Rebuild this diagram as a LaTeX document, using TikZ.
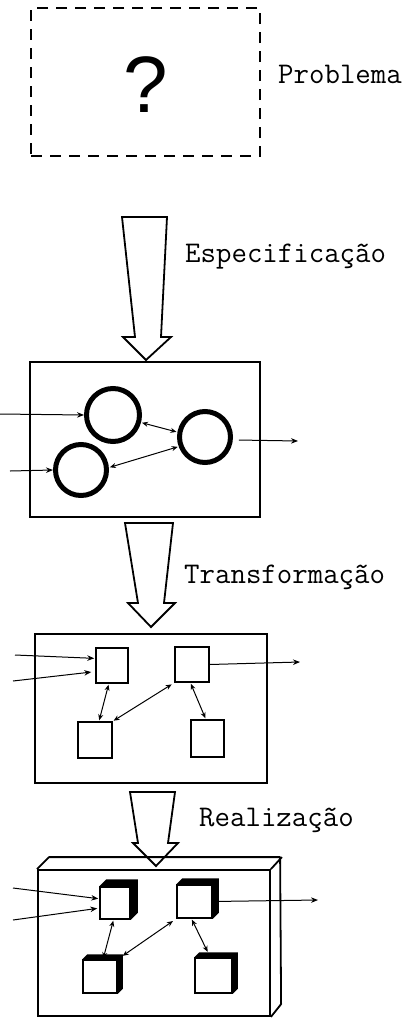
\documentclass[tikz,border=0pt]{standalone}
\usepackage{fontspec}
\setmainfont{Liberation Serif}
\newfontfamily\labelfont{Latin Modern Mono}
\newfontfamily\qfont{Liberation Sans}
\usetikzlibrary{arrows.meta}

\begin{document}
\begin{tikzpicture}[x=1pt,y=-1pt,
  frame/.style={draw, line width=1.8pt, inner sep=0pt},
  problembox/.style={draw, line width=1.6pt, dash pattern=on 11pt off 8pt, inner sep=0pt},
  bigarrow/.style={draw, line width=1.8pt, line join=miter},
  proc/.style={circle, draw, line width=5pt, inner sep=0pt},
  unit/.style={draw, line width=1.5pt, inner sep=0pt},
  flow/.style={line width=1pt, -{Stealth[length=7pt,width=5.5pt]}},
  link/.style={line width=1pt, {Stealth[length=6pt,width=5pt]}-{Stealth[length=6pt,width=5pt]}, shorten <=1pt, shorten >=1pt},
  stage/.style={anchor=west, inner sep=0pt, font=\labelfont\fontsize{30}{32}\selectfont},
]
\useasboundingbox (0,0) rectangle (410,1020);

% ---------- problem ----------
\node[problembox, minimum width=229pt, minimum height=148pt] (prob) at (145.5,82) {};
\node[inner sep=0pt, font=\qfont\fontsize{80}{82}\selectfont] (qm) at (146,85) {?};
\node[stage] (lprob) at (278,74) {Problema};

% ---------- specification ----------
\draw[bigarrow] (122,217) -- (167,217) -- (161,337) -- (171,337) -- (146,360)
  -- (123,337) -- (135,337) -- cycle;
\node[stage] (lspec) at (185,257) {Especificação};

\node[frame, minimum width=230pt, minimum height=155pt] (spec) at (145,439.5) {};
\node[proc, minimum size=53pt] (cA) at (113,415) {};
\node[proc, minimum size=51pt] (cB) at (205,437) {};
\node[proc, minimum size=51pt] (cC) at (81,470) {};
\coordinate (inA) at (0,414);
\coordinate (inC) at (10,471);
\coordinate (outB) at (298,441);
\draw[flow] (inA) -- (cA.west);
\draw[flow] (inC) -- (cC.west);
\draw[flow, shorten <=6pt] (cB.-6) -- (outB);
\draw[link] (cA.-15) -- (cB.170);
\draw[link] (cC.5) -- (cB.200);

% ---------- transformation ----------
\draw[bigarrow] (125,523) -- (173,523) -- (164,603) -- (175,603) -- (151,627)
  -- (128,603) -- (138,603) -- cycle;
\node[stage] (ltrans) at (184,577) {Transformação};

\node[frame, minimum width=232pt, minimum height=149pt] (trans) at (151,708.5) {};
\node[unit, minimum width=32pt, minimum height=35pt] (s1) at (112,665.5) {};
\node[unit, minimum width=34pt, minimum height=35pt] (s2) at (192,664.5) {};
\node[unit, minimum width=34pt, minimum height=36pt] (s3) at (95,740) {};
\node[unit, minimum width=33pt, minimum height=37pt] (s4) at (207.5,738.5) {};
\coordinate (t1) at (15,655);
\coordinate (t2) at (13,681);
\coordinate (tout) at (300,662);
\draw[flow, shorten >=1pt] (t1) -- (s1.157);
\draw[flow, shorten >=4pt] (t2) -- (s1.200);
\draw[flow] (s2.east) -- (tout);
\draw[link] (s1.-100) -- (s3.78);
\draw[link, shorten <=3pt] (s2.south west) -- (s3.north east);
\draw[link] (s2.-95) -- (s4.95);

% ---------- realisation ----------
\draw[bigarrow] (130,792) -- (175,792) -- (168,843) -- (178,843) -- (156,866)
  -- (133,843) -- (138,843) -- cycle;
\node[stage] (lreal) at (199,820) {Realização};

\node[frame, minimum width=232pt, minimum height=146pt] (slab) at (154,943) {};
\draw[line width=1.8pt, line join=round]
  (slab.north west) -- ++(12,-12) -- ++(231,0) -- ++(1,147) -- (slab.south east)
  (slab.north east) -- ++(11,-12);

% cubes: front face plus dark top and side faces
\newcommand{\cubeshade}[2]{%
  \fill (#1.north west) -- ++(#2,-#2) -- ([shift={(#2,-#2)}]#1.north east)
    -- ([shift={(#2,-#2)}]#1.south east) -- (#1.south east) -- (#1.north east) -- cycle;}
\node[unit, minimum width=30pt, minimum height=32pt] (c1) at (115,903) {};
\node[unit, minimum width=35pt, minimum height=33pt] (c2) at (194.5,901.5) {};
\node[unit, minimum width=34pt, minimum height=33pt] (c3) at (100,976.5) {};
\node[unit, minimum width=37pt, minimum height=35pt] (c4) at (213.5,975.5) {};
\cubeshade{c1}{7}
\cubeshade{c2}{6}
\cubeshade{c3}{5}
\cubeshade{c4}{5}
\coordinate (r1) at (13,888);
\coordinate (r2) at (13,920);
\coordinate (rout) at (318,900);
\draw[flow, shorten >=1pt] (r1) -- (c1.165);
\draw[flow, shorten >=2pt] (r2) -- (c1.198);
\draw[flow, shorten <=6pt] (c2.east) -- (rout);
\draw[link] (c1.-95) -- (c3.80);
\draw[link, shorten <=4pt, shorten >=6pt] (c2.south west) -- (c3.north east);
\draw[link, shorten >=6pt] (c2.-100) -- (c4.100);

\end{tikzpicture}
\end{document}
